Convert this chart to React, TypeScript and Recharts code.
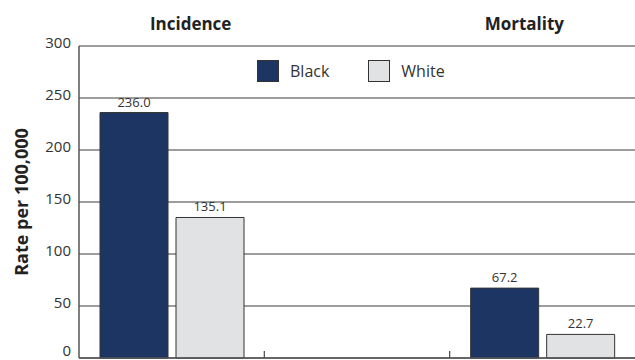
import { Bar, BarChart, CartesianGrid, LabelList, XAxis, YAxis } from "recharts";

const categories = ["Incidence", "", "Mortality"];
const blackRates: (number | null)[] = [236.0, null, 67.2];
const whiteRates: (number | null)[] = [135.1, null, 22.7];
const yTicks = [0, 50, 100, 150, 200, 250, 300];

const BLACK = "#1c3563";
const WHITE = "#e1e2e4";
const EDGE = "#333333";
const TEXT = "#333333";
const FONT = "'Open Sans', 'Noto Sans', sans-serif";
const HEIGHT = 360;

// section headings sit a little off the category centres
const headingShift = [19, 0, -18];

if (typeof document !== "undefined") document.body.style.margin = "0";

const rows = categories.map((name, i) => ({
  name,
  black: blackRates[i],
  white: whiteRates[i],
}));

function HeadingTick(props: any) {
  const { x, y, payload, index } = props;
  return (
    <text x={x + (headingShift[index] ?? 0)} y={y} textAnchor="middle" fill="#222" fontSize={17} fontWeight={700} fontFamily={FONT}>
      {payload.value}
    </text>
  );
}

// y labels ride slightly above their gridlines; keep the bottom one inside the frame
function RateTick(props: any) {
  const { x, y, payload } = props;
  const baseline = Math.min(y + 1.5, HEIGHT - 4.5);
  return (
    <text x={x} y={baseline} textAnchor="end" fill={TEXT} fontSize={15} fontFamily={FONT}>
      {payload.value}
    </text>
  );
}

// small inward tick marks between categories on the bottom axis
function DividerTick(props: any) {
  const { x, y, index, width } = props;
  if (index >= categories.length - 1) return <g />;
  const band = (Number(width) || 556) / categories.length;
  const bx = x + band / 2;
  return <line x1={bx} x2={bx} y1={y} y2={y - 7} stroke="#555" strokeWidth={1.3} />;
}

function LegendBox() {
  const items = [
    { label: "Black", fill: BLACK },
    { label: "White", fill: WHITE },
  ];
  return (
    <div
      style={{
        position: "absolute",
        left: 257,
        top: 60,
        display: "flex",
        alignItems: "center",
        fontFamily: FONT,
        fontSize: 16,
        color: TEXT,
      }}
    >
      {items.map((it) => (
        <div key={it.label} style={{ display: "flex", alignItems: "center", marginRight: 39 }}>
          <span style={{ width: 20, height: 20, background: it.fill, border: `1px solid ${EDGE}`, marginRight: 11 }} />
          {it.label}
        </div>
      ))}
    </div>
  );
}

const fmt = (v: any) => (v == null ? "" : Number(v).toFixed(1));

export default function App() {
  return (
    <div style={{ width: 635, height: HEIGHT, background: "#fff", position: "relative", overflow: "hidden" }}>
      <BarChart
        width={635}
        height={HEIGHT}
        data={rows}
        margin={{ top: 16, right: 0, left: 0, bottom: 1 }}
        barCategoryGap={21}
        barGap={8}
      >
        <CartesianGrid horizontal vertical={false} stroke="#3a3a3a" strokeWidth={1} />
        <XAxis
          xAxisId="top"
          orientation="top"
          dataKey="name"
          height={30}
          axisLine={false}
          tickLine={false}
          tickSize={0}
          tickMargin={16}
          tick={<HeadingTick />}
          interval={0}
        />
        <XAxis
          dataKey="name"
          height={1}
          axisLine={{ stroke: "#555", strokeWidth: 1.5 }}
          tickLine={false}
          tickSize={0}
          tickMargin={0}
          tick={<DividerTick />}
          interval={0}
        />
        <YAxis
          width={79}
          domain={[0, 300]}
          ticks={yTicks}
          interval={0}
          axisLine={{ stroke: "#555", strokeWidth: 1.5 }}
          tickLine={false}
          tick={<RateTick />}
          label={{
            value: "Rate per 100,000",
            angle: -90,
            position: "insideLeft",
            dx: 17,
            style: { textAnchor: "middle", fill: "#222", fontSize: 18, fontWeight: 700, fontFamily: FONT },
          }}
        />
        <Bar dataKey="black" name="Black" fill={BLACK} stroke={EDGE} strokeWidth={1} isAnimationActive={false}>
          <LabelList dataKey="black" position="top" offset={6} formatter={fmt} style={{ fill: TEXT, fontSize: 13, fontFamily: FONT }} />
        </Bar>
        <Bar dataKey="white" name="White" fill={WHITE} stroke={EDGE} strokeWidth={1} isAnimationActive={false}>
          <LabelList dataKey="white" position="top" offset={6} formatter={fmt} style={{ fill: TEXT, fontSize: 13, fontFamily: FONT }} />
        </Bar>
      </BarChart>
      <LegendBox />
    </div>
  );
}
